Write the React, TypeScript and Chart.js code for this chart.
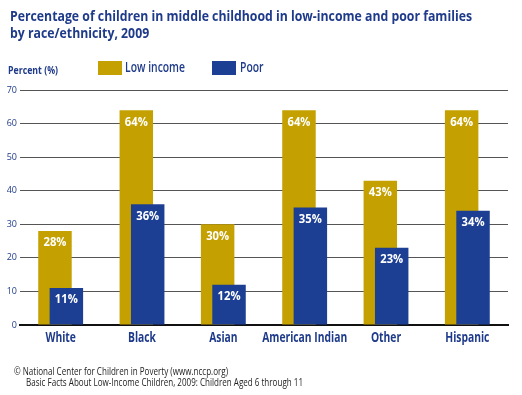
import React, { useEffect, useRef } from "react";
import { Chart, registerables } from "chart.js";

Chart.register(...registerables);

// ---- data ----
const categories = ["White", "Black", "Asian", "American Indian", "Other", "Hispanic"];
const lowIncome = [28, 64, 30, 64, 43, 64];
const poor = [11, 36, 12, 35, 23, 34];
const seriesNames = ["Low income", "Poor"];
const yMin = 0;
const yMax = 70;
const yStep = 10;
const titleLines = [
  "Percentage of children in middle childhood in low-income and poor families",
  "by race/ethnicity, 2009",
];
const yAxisTitle = "Percent (%)";
const footerLines = [
  "© National Center for Children in Poverty (www.nccp.org)",
  "Basic Facts About Low-Income Children, 2009: Children Aged 6 through 11",
];

// ---- styles ----
const GOLD = "#C4A000";
const BLUE = "#1C3F94";
const TEXT_BLUE = "#1E3A8A";
const FONT = "'Open Sans', 'DejaVu Sans', sans-serif";

function drawScaled(
  ctx: CanvasRenderingContext2D,
  text: string,
  x: number,
  y: number,
  sx: number,
  align: "left" | "center" = "left"
) {
  ctx.save();
  ctx.translate(x, y);
  ctx.scale(sx, 1);
  ctx.textAlign = align;
  ctx.fillText(text, 0, 0);
  ctx.restore();
}

const decorPlugin = {
  id: "decor",
  // draw the first (gold) series underneath the second (blue) one
  beforeDatasetsDraw(chart: any) {
    const meta = chart.getDatasetMeta(0);
    if (meta && meta.controller) meta.controller.draw();
  },
  beforeDatasetDraw(chart: any, args: any) {
    if (args.index === 0) return false;
    return true;
  },
  afterDraw(chart: any) {
    const ctx: CanvasRenderingContext2D = chart.ctx;
    ctx.save();
    ctx.textBaseline = "alphabetic";

    // title
    ctx.fillStyle = TEXT_BLUE;
    ctx.font = `700 15px ${FONT}`;
    const ts = 462 / ctx.measureText(titleLines[0]).width;
    drawScaled(ctx, titleLines[0], 10, 21, ts);
    drawScaled(ctx, titleLines[1], 10, 37.5, ts);

    // y axis title
    ctx.font = `700 10px ${FONT}`;
    const ps = 50 / ctx.measureText(yAxisTitle).width;
    drawScaled(ctx, yAxisTitle, 8, 74, ps);

    // legend
    ctx.fillStyle = GOLD;
    ctx.fillRect(98, 61, 24, 14);
    ctx.fillStyle = BLUE;
    ctx.fillRect(212, 61, 24, 14);
    ctx.fillStyle = TEXT_BLUE;
    ctx.font = `600 14px ${FONT}`;
    const ls = 60 / ctx.measureText(seriesNames[0]).width;
    drawScaled(ctx, seriesNames[0], 125, 71.5, ls);
    drawScaled(ctx, seriesNames[1], 240, 71.5, ls);

    // x category labels
    const xs = chart.scales.x;
    ctx.font = `700 14px ${FONT}`;
    const cs = 85 / ctx.measureText(categories[3]).width;
    categories.forEach((c, i) => {
      drawScaled(ctx, c, xs.getPixelForValue(i), 342, cs, "center");
    });

    // footer
    ctx.fillStyle = "#222222";
    ctx.font = `400 10.5px ${FONT}`;
    const fs = 277 / ctx.measureText(footerLines[1]).width;
    drawScaled(ctx, footerLines[0], 14, 375, fs);
    drawScaled(ctx, footerLines[1], 26, 385.5, fs);

    ctx.restore();
  },
  afterDatasetsDraw(chart: any) {
    const ctx: CanvasRenderingContext2D = chart.ctx;
    ctx.save();
    ctx.fillStyle = "#FFFFFF";
    ctx.font = `700 12px ${FONT}`;
    ctx.textBaseline = "middle";
    const vs = 23 / ctx.measureText("28%").width;
    chart.data.datasets.forEach((ds: any, di: number) => {
      const meta = chart.getDatasetMeta(di);
      meta.data.forEach((bar: any, i: number) => {
        drawScaled(ctx, `${ds.data[i]}%`, bar.x, bar.y + 12, vs, "center");
      });
    });
    ctx.restore();
  },
};

export default function App() {
  const ref = useRef<HTMLCanvasElement | null>(null);

  useEffect(() => {
    if (!ref.current) return;
    const chart = new Chart(ref.current, {
      type: "bar",
      data: {
        labels: categories,
        datasets: [
          {
            label: seriesNames[0],
            data: lowIncome,
            backgroundColor: GOLD,
            borderWidth: 0,
            categoryPercentage: 0.28,
            barPercentage: 2.94,
          },
          {
            label: seriesNames[1],
            data: poor,
            backgroundColor: BLUE,
            borderWidth: 0,
            categoryPercentage: 0.28,
            barPercentage: 2.94,
          },
        ],
      },
      options: {
        responsive: false,
        animation: false,
        devicePixelRatio: 1,
        layout: { padding: { left: 0, top: 90, right: 14, bottom: 70 } },
        plugins: {
          legend: { display: false },
          title: { display: false },
          tooltip: { enabled: false },
        },
        scales: {
          x: {
            type: "category",
            grid: { display: false },
            ticks: { display: false },
            border: { display: true, color: "#111111", width: 2 },
            afterFit: (s: any) => {
              s.height = 0;
            },
          },
          y: {
            min: yMin,
            max: yMax,
            ticks: {
              stepSize: yStep,
              padding: 3,
              color: TEXT_BLUE,
              font: { family: FONT, size: 9 },
            },
            grid: {
              drawTicks: false,
              color: (c: any) => (c.tick && c.tick.value === 0 ? "rgba(0,0,0,0)" : "#555555"),
              lineWidth: 1,
            },
            border: { display: false },
            afterFit: (s: any) => {
              s.width = 20;
            },
          },
        },
      },
      plugins: [decorPlugin],
    });
    return () => chart.destroy();
  }, []);

  return (
    <div
      style={{
        position: "fixed",
        left: 0,
        top: 0,
        width: 522,
        height: 395,
        background: "#FFFFFF",
      }}
    >
      <canvas ref={ref} width={522} height={395} style={{ display: "block" }} />
    </div>
  );
}
